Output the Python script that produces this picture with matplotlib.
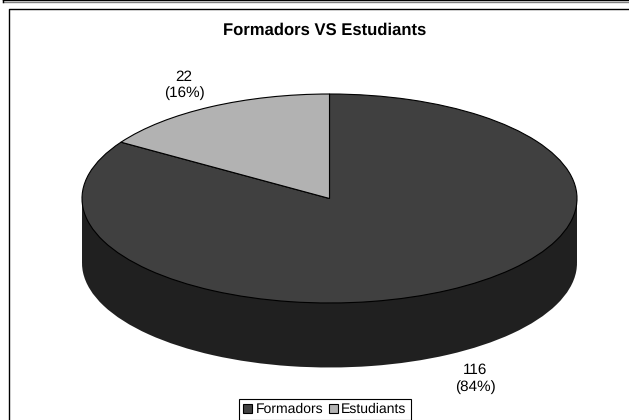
import numpy as np
import matplotlib
matplotlib.use('Agg')
from matplotlib import pyplot as plt
from matplotlib.lines import Line2D

plt.rcParams['font.family'] = ['Liberation Sans', 'DejaVu Sans']
plt.rcParams['text.hinting'] = 'none'

title = 'Formadors VS Estudiants'
categories = ['Formadors', 'Estudiants']
values = [116, 22]
colors = ['#404040', '#B2B2B2']
side_color = '#202020'

W, H = 629, 420
# pie geometry in pixels
cx, cy, rx, ry, depth = 329.5, 198.5, 247.5, 104.5, 64.5


def fx(px):
    return px / W


def fy(py):
    return 1 - py / H


fig = plt.figure(figsize=(W / 100, H / 100), dpi=100, facecolor='white')
ax = fig.add_axes([0, 0, 1, 1])

# side of the cylinder: lower pie plus the band up to the top face
d = depth / ry
ax.pie(values, colors=[side_color, side_color], startangle=90, counterclock=False,
       center=(0, -d), radius=1, wedgeprops={'linewidth': 0})
ax.fill_between([-1, 1], 0, -d, color=side_color, linewidth=0, zorder=2)

# top face
wedges, _ = ax.pie(values, colors=colors, startangle=90, counterclock=False,
                   radius=1, wedgeprops={'edgecolor': 'black', 'linewidth': 0.8})
for w in wedges:
    w.set_zorder(3)

ax.set_aspect('auto')
ax.set_xlim(-cx / rx, (W - cx) / rx)
ax.set_ylim((cy - H) / ry, cy / ry)
ax.axis('off')

# frames
fig.add_artist(Line2D([fx(8.5), fx(8.5), 1], [0, fy(8.5), fy(8.5)], color='black', lw=1.0))
fig.add_artist(Line2D([fx(3), 1], [fy(0.3), fy(0.3)], color='black', lw=1.0))
fig.add_artist(Line2D([fx(3), 1], [fy(1.6), fy(1.6)], color='#808080', lw=1.0))
fig.add_artist(Line2D([fx(3), fx(3)], [1, fy(2)], color='black', lw=1.0))

fig.text(fx(324.5), fy(30.5), title, fontsize=12, fontweight='bold', ha='center', va='center')

total = sum(values)
fig.text(fx(184), fy(85), '%d\n(%d%%)' % (values[1], round(100 * values[1] / total)),
         fontsize=11, ha='center', va='center', linespacing=1.2)
fig.text(fx(475), fy(378.5), '%d\n(%d%%)' % (values[0], round(100 * values[0] / total)),
         fontsize=11, ha='center', va='center', linespacing=1.2)

leg = fig.legend(wedges, categories, loc='center', bbox_to_anchor=(fx(325), fy(409.5)),
                 ncol=2, fontsize=10.1, frameon=True, fancybox=False, framealpha=1,
                 edgecolor='black', handlelength=0.65, handleheight=0.65, handletextpad=0.22,
                 columnspacing=0.42, borderpad=0.28, borderaxespad=0)
leg.get_frame().set_linewidth(0.8)

fig.savefig('out.png', dpi=100)
